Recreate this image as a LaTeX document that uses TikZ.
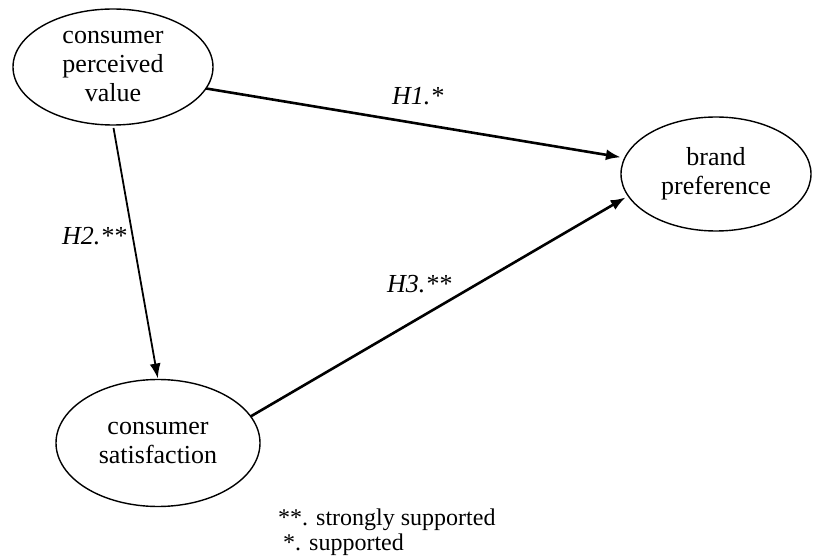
\documentclass[tikz,border=0pt]{standalone}
\usepackage{fontspec}
\setmainfont{Liberation Serif}
\usetikzlibrary{arrows.meta,shapes.geometric}
\tikzset{
  construct/.style={draw, ellipse, line width=1.4pt, inner sep=0pt, outer sep=0pt, align=center,
    font=\fontsize{26}{29}\selectfont},
  path/.style={line width=2.6pt, -{Latex[length=15pt,width=11pt]}},
  thinpath/.style={line width=1.8pt, -{Latex[length=15pt,width=11pt]}},
  hyp/.style={font=\fontsize{26}{29}\selectfont\itshape, anchor=base west, inner sep=0pt},
  legend/.style={font=\fontsize{24}{27}\selectfont, anchor=base west, inner sep=0pt}
}
\begin{document}
\begin{tikzpicture}[x=1pt,y=-1pt]
\useasboundingbox (0,0) rectangle (815,556);
\node[construct, minimum width=200pt, minimum height=116pt] (cpv) at (113,67) {consumer\\perceived\\value};
\node[construct, minimum width=190pt, minimum height=114pt] (bp) at (716,174) {brand\\preference};
\node[construct, minimum width=204pt, minimum height=127pt] (cs) at (158,443) {consumer\\satisfaction};
\draw[path, shorten >=4pt] (cpv.-13) -- (bp.170);
\draw[thinpath, shorten <=3pt, shorten >=1pt] (cpv.south) -- (cs.north);
\draw[path, shorten >=3pt] (cs.16) -- (bp.194);
\node[hyp] (h1) at (392,105) {H1.*};
\node[hyp] (h2) at (62,245) {H2.**};
\node[hyp] (h3) at (387,293) {H3.**};
\node[legend] (l1) at (278,525) {**. strongly supported};
\node[legend] (l2) at (283,550) {*. supported};
\end{tikzpicture}
\end{document}
